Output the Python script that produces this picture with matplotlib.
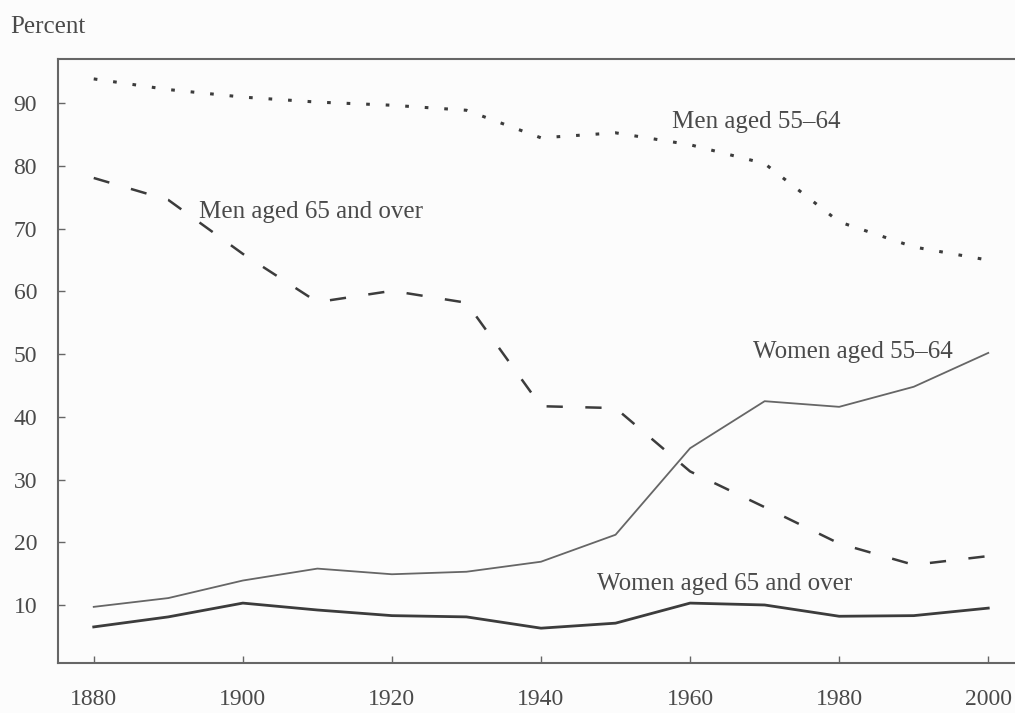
import matplotlib
matplotlib.use('Agg')
import matplotlib.pyplot as plt

years = [1880, 1890, 1900, 1910, 1920, 1930, 1940, 1950, 1960, 1970, 1980, 1990, 2000]
men_55_64 = [93.9, 92.2, 91.0, 90.2, 89.7, 88.9, 84.5, 85.3, 83.4, 80.4, 71.1, 67.1, 65.0]
men_65_over = [78.1, 74.6, 66.0, 58.3, 60.1, 58.2, 41.7, 41.4, 31.3, 25.6, 19.8, 16.4, 17.8]
women_55_64 = [9.7, 11.1, 13.9, 15.8, 14.9, 15.3, 16.9, 21.2, 35.0, 42.5, 41.6, 44.8, 50.2]
women_65_over = [6.5, 8.1, 10.3, 9.2, 8.3, 8.1, 6.3, 7.1, 10.3, 10.0, 8.2, 8.3, 9.5]

xticks = [1880, 1900, 1920, 1940, 1960, 1980, 2000]
yticks = [10, 20, 30, 40, 50, 60, 70, 80, 90]

plt.rcParams['font.family'] = ['Liberation Serif', 'DejaVu Serif']
ink = '#3c3c3c'
txt = '#4a4a4a'

fig = plt.figure(figsize=(10.15, 7.13), dpi=100, facecolor='#fcfcfc')
ax = fig.add_axes([0.0571, 0.0706, 0.943, 0.846])
ax.set_facecolor('#fcfcfc')

ax.plot(years, men_55_64, color=ink, lw=2.2, dashes=(1.2, 5.2), solid_capstyle='butt')
ax.plot(years, men_65_over, color=ink, lw=1.8, dashes=(6.5, 9))
ax.plot(years, women_55_64, color='#666666', lw=1.3)
ax.plot(years, women_65_over, color=ink, lw=2.0)

ax.set_xlim(1875.2, 2003.6)
ax.set_ylim(0.8, 97)
ax.set_xticks(xticks)
ax.set_yticks(yticks)
ax.tick_params(direction='in', length=5, width=1, colors='#666666',
               labelcolor=txt, labelsize=17)
ax.tick_params(axis='y', pad=15)
ax.tick_params(axis='x', pad=19)

for s in ['left', 'top', 'bottom']:
    ax.spines[s].set_color('#666666')
    ax.spines[s].set_linewidth(1.5)
ax.spines['right'].set_visible(False)

fig.text(10 / 1015, 1 - 27 / 713, 'Percent', fontsize=18, color=txt, va='center', ha='left')
ax.text(1957.6, 86.0, 'Men aged 55\u201364', fontsize=18, color=txt)
ax.text(1894.1, 71.7, 'Men aged 65 and over', fontsize=18, color=txt)
ax.text(1968.5, 49.4, 'Women aged 55\u201364', fontsize=18, color=txt)
ax.text(1947.5, 12.4, 'Women aged 65 and over', fontsize=18, color=txt)

fig.savefig('out.png', dpi=100, facecolor=fig.get_facecolor())
